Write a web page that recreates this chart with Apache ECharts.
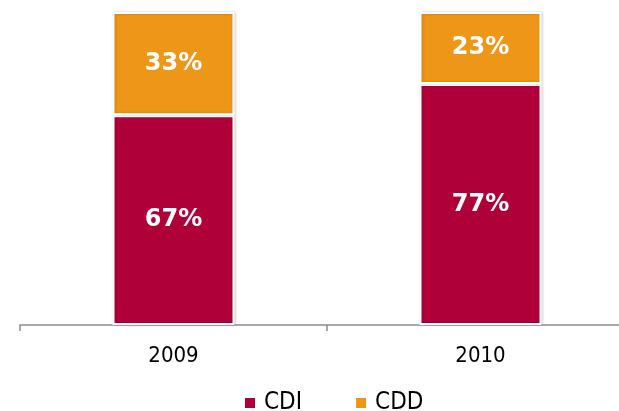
<!DOCTYPE html>
<html>
<head>
<meta charset="utf-8">
<script src="https://cdn.jsdelivr.net/npm/echarts@6/dist/echarts.min.js"></script>
<style>
  html, body { margin: 0; padding: 0; background: #fff; }
  #chart { width: 619px; height: 411px; }
</style>
</head>
<body>
<div id="chart"></div>
<script>
// data
var years = ['2009', '2010'];
var cdi = [67, 77];
var cdd = [33, 23];
var seriesNames = ['CDI', 'CDD'];

var chart = echarts.init(document.getElementById('chart'));

function barSeries(name, data, color) {
    return {
        name: name,
        type: 'bar',
        stack: 'total',
        barWidth: 122,
        data: data,
        itemStyle: {
            color: color,
            borderColor: '#ffffff',
            borderWidth: 2,
            shadowBlur: 3,
            shadowOffsetX: 1,
            shadowColor: 'rgba(0,0,0,0.18)'
        },
        label: {
            show: true,
            position: 'inside',
            formatter: '{c}%',
            color: '#ffffff',
            fontFamily: 'DejaVu Sans',
            fontWeight: 'bold',
            fontSize: 24
        }
    };
}

var option = {
    animation: false,
    // category band is ~307px wide, so the grid runs past the right edge
    grid: { left: 20, width: 614, top: 12, bottom: 86, outerBoundsMode: 'none', containLabel: false },
    legend: {
        data: seriesNames,
        top: 386,
        left: 238,
        itemWidth: 12,
        itemHeight: 12,
        itemGap: 52,
        icon: 'rect',
        textStyle: { fontFamily: 'DejaVu Sans Condensed', fontSize: 24, color: '#000', padding: [0, 0, 0, 3] }
    },
    xAxis: {
        type: 'category',
        data: years,
        axisLine: { lineStyle: { color: '#8c8c8c', width: 1.5 } },
        axisTick: { show: true, length: 6, lineStyle: { color: '#8c8c8c', width: 1.5 } },
        axisLabel: { fontFamily: 'DejaVu Sans Condensed', fontSize: 22, color: '#000', margin: 20 }
    },
    yAxis: {
        type: 'value',
        min: 0,
        max: 100,
        show: false,
        splitLine: { show: false }
    },
    series: [
        barSeries('CDI', cdi, '#B0003A'),
        barSeries('CDD', cdd, '#EE9617')
    ]
};

chart.setOption(option);
</script>
</body>
</html>
